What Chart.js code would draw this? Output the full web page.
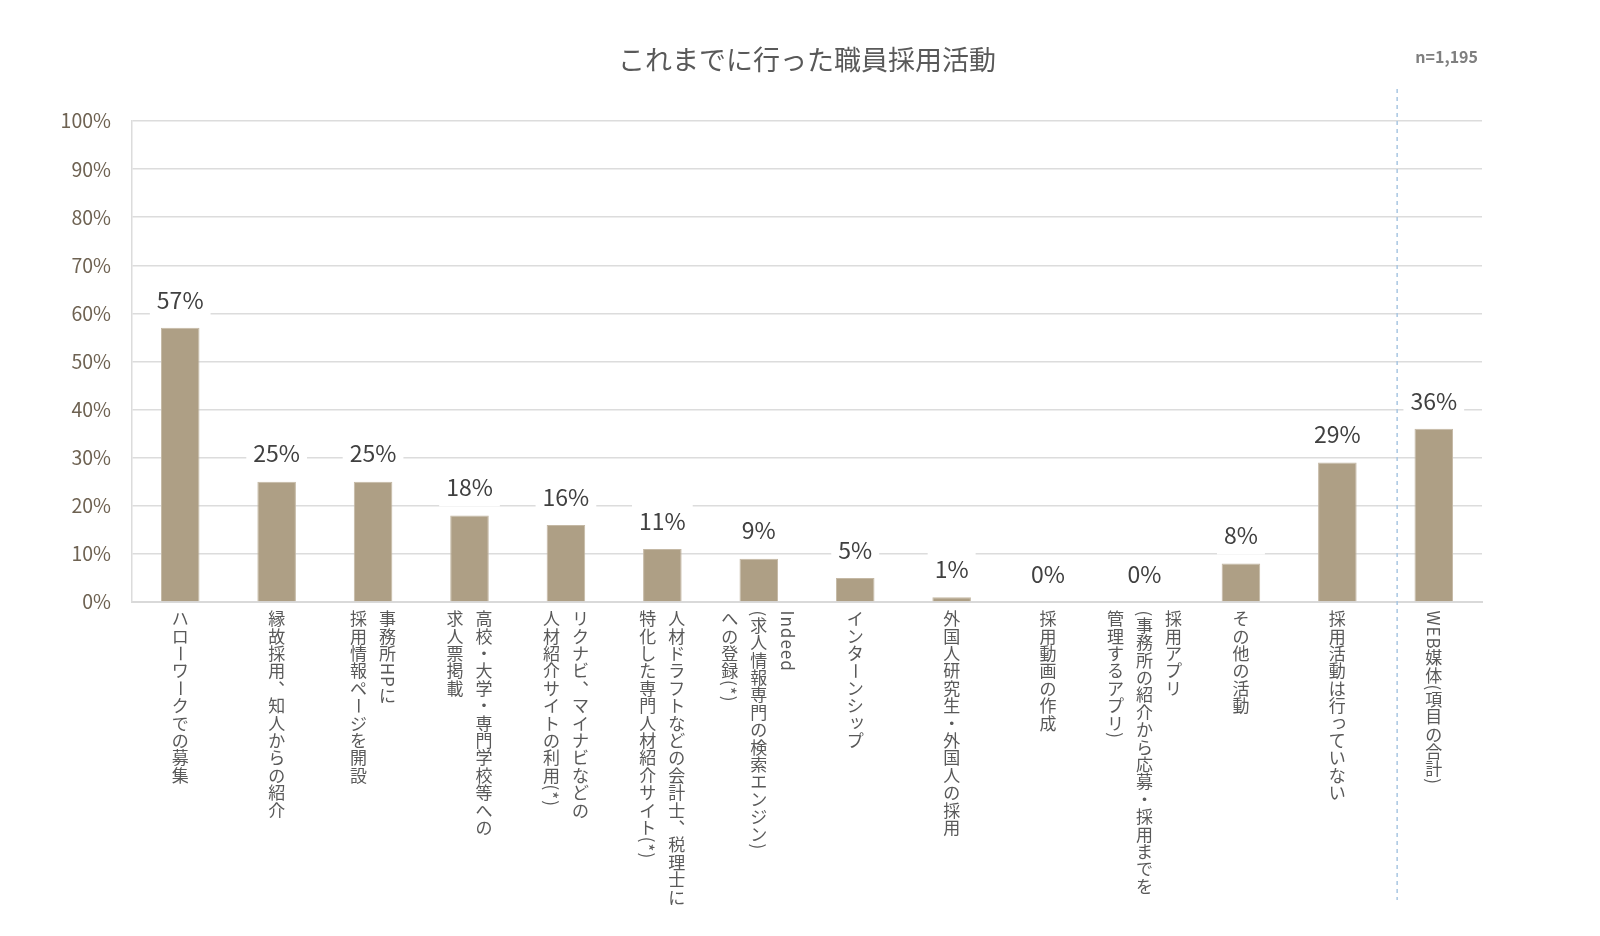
<!DOCTYPE html>
<html lang="ja">
<head>
<meta charset="utf-8">
<script src="https://cdn.jsdelivr.net/npm/chart.js@4.4.1/dist/chart.umd.min.js"></script>
<style>
  html, body { margin: 0; padding: 0; background: #fff; }
  #wrap { width: 1600px; height: 936px; position: relative; }
</style>
</head>
<body>
<div id="wrap"><canvas id="chart_saiyo"></canvas></div>
<script>
// Données du graphique
const chartTitle = "これまでに行った職員採用活動";
const sampleNote = "n=1,195";
// chaque catégorie = colonnes de texte vertical (la première est à droite)
const categories = [
    ["ハローワークでの募集"],
    ["縁故採用、知人からの紹介"],
    ["事務所HPに", "採用情報ページを開設"],
    ["高校・大学・専門学校等への", "求人票掲載"],
    ["リクナビ、マイナビなどの", "人材紹介サイトの利用(*)"],
    ["人材ドラフトなどの会計士、税理士に", "特化した専門人材紹介サイト(*)"],
    ["Indeed", "(求人情報専門の検索エンジン)", "への登録(*)"],
    ["インターンシップ"],
    ["外国人研究生・外国人の採用"],
    ["採用動画の作成"],
    ["採用アプリ", "(事務所の紹介から応募・採用までを", "管理するアプリ)"],
    ["その他の活動"],
    ["採用活動は行っていない"],
    ["WEB媒体(項目の合計)"]
];
const values = [57, 25, 25, 18, 16, 11, 9, 5, 1, 0, 0, 8, 29, 36];
const yTicks = [0, 10, 20, 30, 40, 50, 60, 70, 80, 90, 100];

const FONT = "'Noto Sans CJK JP', 'Noto Sans', sans-serif";

// Titre + n=
const titlePlugin = {
    id: 'titre',
    afterDraw(chart) {
        const ctx = chart.ctx;
        const area = chart.chartArea;
        ctx.save();
        ctx.fillStyle = '#595959';
        ctx.font = `27px ${FONT}`;
        ctx.textAlign = 'center';
        ctx.textBaseline = 'middle';
        ctx.fillText(chartTitle, (area.left + area.right) / 2, 60);
        ctx.fillStyle = '#7f7f7f';
        ctx.font = `bold 16px ${FONT}`;
        ctx.textAlign = 'right';
        ctx.fillText(sampleNote, area.right - 4, 57);
        ctx.restore();
    }
};

// Ligne pointillée avant la dernière catégorie
const dashPlugin = {
    id: 'pointilles',
    afterDatasetsDraw(chart) {
        const ctx = chart.ctx;
        const x = chart.scales.x.getPixelForValue(categories.length - 1.38);
        ctx.save();
        ctx.strokeStyle = '#a8c6e2';
        ctx.lineWidth = 1.5;
        ctx.setLineDash([4, 4]);
        ctx.beginPath();
        ctx.moveTo(x, 89);
        ctx.lineTo(x, 900);
        ctx.stroke();
        ctx.restore();
    }
};

// Étiquettes de valeur avec fond blanc
const valueLabelPlugin = {
    id: 'valeurs',
    afterDatasetsDraw(chart) {
        const ctx = chart.ctx;
        const meta = chart.getDatasetMeta(0);
        ctx.save();
        ctx.font = `23px ${FONT}`;
        ctx.textAlign = 'center';
        ctx.textBaseline = 'middle';
        meta.data.forEach((bar, i) => {
            const txt = values[i] + '%';
            const y = bar.y - 28;
            const w = ctx.measureText(txt).width + 14;
            ctx.fillStyle = '#ffffff';
            ctx.fillRect(bar.x - w / 2, y - 19, w, 38);
            ctx.fillStyle = '#404040';
            ctx.fillText(txt, bar.x, y);
        });
        ctx.restore();
    }
};

// Texte vertical (tategaki) sous l'axe
const rotated = "ー〜～()（）-=";
const smallKana = "ッっャャュュョョァィゥェォゃゅょぁぃぅぇぉ";
const verticalLabelPlugin = {
    id: 'tategaki',
    afterDraw(chart) {
        const ctx = chart.ctx;
        const xs = chart.scales.x;
        const fs = 17;
        const adv0 = 17.4;
        const colGap = 29;
        const top = chart.chartArea.bottom + 8;
        ctx.save();
        ctx.font = `${fs}px ${FONT}`;
        ctx.fillStyle = '#595959';
        ctx.textAlign = 'center';
        ctx.textBaseline = 'middle';
        categories.forEach((lines, i) => {
            const cx = xs.getPixelForValue(i);
            const n = lines.length;
            lines.forEach((line, j) => {
                const x = cx + ((n - 1) / 2 - j) * colGap;
                let y = top;
                for (const ch of line) {
                    const code = ch.charCodeAt(0);
                    if (code < 0x7f || rotated.includes(ch)) {
                        const adv = ch === 'ー' ? adv0 : ctx.measureText(ch).width + 1;
                        ctx.save();
                        ctx.translate(x, y + adv / 2);
                        ctx.rotate(Math.PI / 2);
                        ctx.fillText(ch, 0, 0);
                        ctx.restore();
                        y += adv;
                    } else if (ch === '、' || ch === '。') {
                        ctx.fillText(ch, x + fs * 0.6, y + adv0 / 2 - fs * 0.6);
                        y += adv0;
                    } else if (smallKana.includes(ch)) {
                        ctx.fillText(ch, x + fs * 0.1, y + adv0 / 2 - fs * 0.12);
                        y += adv0;
                    } else {
                        ctx.fillText(ch, x, y + adv0 / 2);
                        y += adv0;
                    }
                }
            });
        });
        ctx.restore();
    }
};

const ctx = document.getElementById('chart_saiyo');
new Chart(ctx, {
    type: 'bar',
    data: {
        labels: categories.map(c => c.join('')),
        datasets: [{
            data: values,
            backgroundColor: '#ae9f85',
            borderColor: '#c4b8a4',
            borderWidth: 1,
            barPercentage: 0.4,
            categoryPercentage: 1.0
        }]
    },
    options: {
        responsive: true,
        maintainAspectRatio: false,
        animation: false,
        devicePixelRatio: 1,
        layout: { padding: { top: 121, right: 118, left: 0, bottom: 0 } },
        plugins: {
            legend: { display: false },
            tooltip: { enabled: false }
        },
        scales: {
            x: {
                ticks: { display: false },
                grid: { display: false, drawTicks: false },
                border: { color: '#d9d9d9', width: 2 },
                afterFit: (scale) => { scale.height = 334; }
            },
            y: {
                min: 0,
                max: 100,
                afterBuildTicks: (scale) => { scale.ticks = yTicks.map(v => ({ value: v })); },
                ticks: {
                    padding: 21,
                    color: '#6e6252',
                    font: { family: FONT, size: 19.5 },
                    callback: (v) => v + '%'
                },
                grid: { color: '#dcdcdc', lineWidth: 1.5, drawTicks: false },
                border: { color: '#dcdcdc', width: 1.5 },
                afterFit: (scale) => { scale.width = 132; }
            }
        }
    },
    plugins: [titlePlugin, dashPlugin, valueLabelPlugin, verticalLabelPlugin]
});
</script>
</body>
</html>
